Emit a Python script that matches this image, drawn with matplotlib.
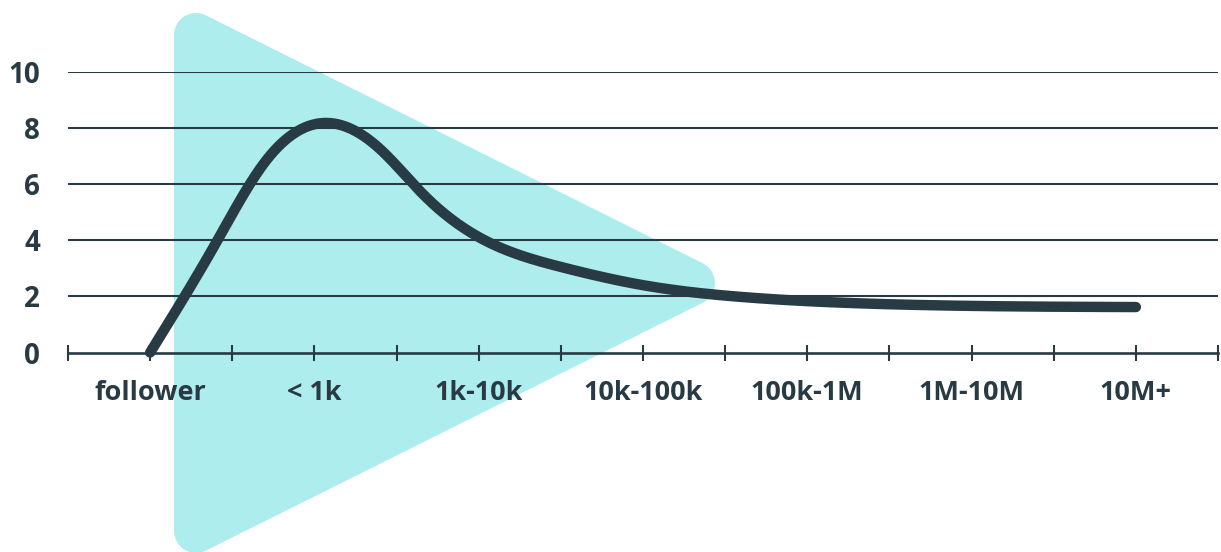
import numpy as np
import matplotlib
matplotlib.use("Agg")
import matplotlib.pyplot as plt
from matplotlib.patches import Polygon

# --- data -----------------------------------------------------------------
categories = ["follower", "< 1k", "1k-10k", "10k-100k", "100k-1M", "1M-10M", "10M+"]
y_ticks = [0, 2, 4, 6, 8, 10]

# curve samples (position along the category axis, value)
curve_x = [0.0, 0.4, 0.7, 1.05, 1.4, 1.66, 2.03, 2.5, 3.0, 3.6, 4.5, 6.0]
curve_y = [0.0, 3.9, 6.8, 8.18, 7.25, 5.65, 4.02, 3.05, 2.4, 1.98, 1.72, 1.62]

DARK = "#283a43"
CYAN = "#adeded"
W, H, DPI = 1221, 552, 100


def natural_spline(x, y, xs):
    """Natural cubic spline, used to draw a smooth line through the samples."""
    x = np.asarray(x, float)
    y = np.asarray(y, float)
    n = len(x)
    h = np.diff(x)
    A = np.zeros((n, n))
    rhs = np.zeros(n)
    A[0, 0] = A[-1, -1] = 1.0
    for i in range(1, n - 1):
        A[i, i - 1] = h[i - 1]
        A[i, i] = 2 * (h[i - 1] + h[i])
        A[i, i + 1] = h[i]
        rhs[i] = 6 * ((y[i + 1] - y[i]) / h[i] - (y[i] - y[i - 1]) / h[i - 1])
    M = np.linalg.solve(A, rhs)
    idx = np.clip(np.searchsorted(x, xs) - 1, 0, n - 2)
    x0, x1 = x[idx], x[idx + 1]
    hh = h[idx]
    return (M[idx] * (x1 - xs) ** 3 / (6 * hh) + M[idx + 1] * (xs - x0) ** 3 / (6 * hh)
            + (y[idx] / hh - M[idx] * hh / 6) * (x1 - xs)
            + (y[idx + 1] / hh - M[idx + 1] * hh / 6) * (xs - x0))


fig = plt.figure(figsize=(W / DPI, H / DPI), dpi=DPI)
fig.patch.set_facecolor("white")

ax_left, ax_right, ax_top, ax_bottom = 68, 1218, 72, 352.5
ax = fig.add_axes([ax_left / W, (H - ax_bottom) / H,
                   (ax_right - ax_left) / W, (ax_bottom - ax_top) / H])
ax.set_facecolor("none")
ax.set_xlim(-0.5, len(categories) - 0.5)
ax.set_ylim(0, 10)

# --- rounded background triangle (pixel space, stroked with round joins) ----
radius = 22.0
left_px, top_px, bottom_px, tip_px = 174.0, 13.0, 553.0, 715.0
mid_px = (top_px + bottom_px) / 2
inner = np.array([[left_px + radius, top_px + radius],
                  [left_px + radius, bottom_px - radius],
                  [tip_px - radius, mid_px]])
inner_fig = np.column_stack([inner[:, 0] / W, (H - inner[:, 1]) / H])
tri = Polygon(inner_fig, closed=True, transform=fig.transFigure,
              facecolor=CYAN, edgecolor=CYAN, linewidth=2 * radius * 72 / DPI,
              joinstyle="round", zorder=0, clip_on=False)
ax.add_patch(tri)

# --- grid and axis ----------------------------------------------------------
for v in y_ticks[1:]:
    ax.axhline(v, color=DARK, linewidth=1.5, zorder=1)

for side in ("top", "right", "left"):
    ax.spines[side].set_visible(False)
ax.spines["bottom"].set_color(DARK)
ax.spines["bottom"].set_linewidth(1.9)
ax.spines["bottom"].set_zorder(1)

ax.set_xticks(range(len(categories)))
ax.set_xticklabels(categories)
ax.set_xticks(np.arange(-0.5, len(categories), 1.0), minor=True)
ax.tick_params(axis="x", which="both", direction="inout", length=12,
               width=1.5, color=DARK)
ax.tick_params(axis="x", which="major", pad=14, labelsize=19.5,
               labelcolor=DARK)

ax.set_yticks(y_ticks)
ax.set_yticklabels([str(v) for v in y_ticks])
ax.tick_params(axis="y", length=0, pad=20, labelsize=20, labelcolor=DARK)

for lab in ax.get_xticklabels() + ax.get_yticklabels():
    lab.set_fontfamily("Open Sans")
    lab.set_fontweight("bold")

# --- curve -------------------------------------------------------------------
xs = np.linspace(curve_x[0], curve_x[-1], 800)
ax.plot(xs, natural_spline(curve_x, curve_y, xs), color=DARK, linewidth=7.5,
        solid_capstyle="round", zorder=3, clip_on=False)

fig.savefig("out.png", dpi=DPI)
